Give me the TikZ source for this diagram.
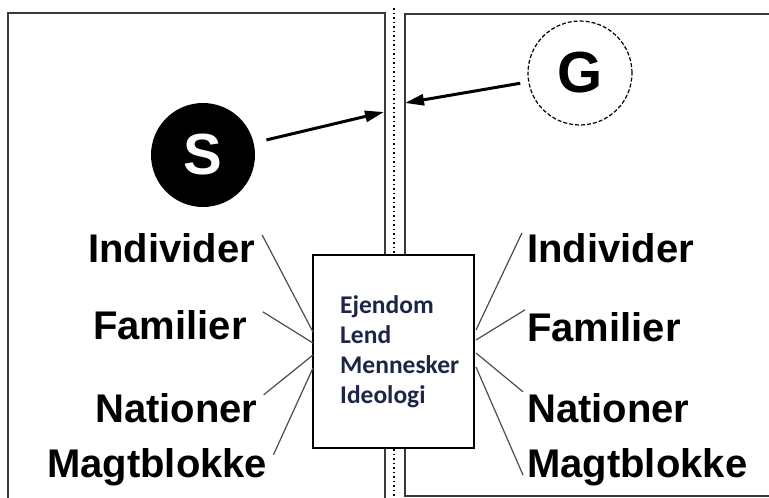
\documentclass[tikz,border=0pt]{standalone}
\usepackage{fontspec}
\setmainfont{Liberation Sans}
\newfontfamily\boxfont{Carlito}
\usetikzlibrary{arrows.meta}
\definecolor{cFrame}{HTML}{3A3A3A}
\definecolor{cInk}{HTML}{1E2648}
\tikzset{
  panel/.style={draw=cFrame, line width=2pt},
  strip/.style={draw=black, line width=2.2pt, dash pattern=on 1.5pt off 3pt},
  actor/.style={circle, minimum size=104pt, inner sep=0pt,
                font=\bfseries\fontsize{58}{58}\selectfont},
  lbl/.style={inner sep=0pt, anchor=base west,
              font=\bfseries\fontsize{40}{40}\selectfont},
  res/.style={inner sep=0pt, anchor=base west, text=cInk,
              font=\boxfont\bfseries\fontsize{25.5}{25.5}\selectfont},
  link/.style={draw=black!70, line width=1.2pt},
  ar/.style={-{Triangle[length=19pt, width=11pt]}, line width=3pt},
}

\begin{document}
\begin{tikzpicture}[x=1pt, y=-1pt]
    \useasboundingbox (0,0) rectangle (769,498);

    % the two panels and the border between them
    \draw[panel] (8,510) -- (8,13) -- (385,13) -- (385,510);
    \draw[panel] (780,14) -- (405,14) -- (405,496) -- (780,496);
    \draw[strip] (394,8) -- (394,498);

    % actors
    \node[actor, fill=black, text=white] (S) at (203,155) {S};
    \node[actor, draw, line width=1.2pt, dash pattern=on 4pt off 2pt, fill=white] (G) at (580,73) {G};
    \coordinate (hitS) at (384,112);
    \coordinate (hitG) at (405,103);
    \draw[ar, shorten <=13pt] (S) -- (hitS);
    \draw[ar, shorten <=8pt] (G) -- (hitG);

    % resources in the middle
    \node[draw, fill=white, line width=1.5pt, minimum width=161pt, minimum height=193pt,
          inner sep=0pt] (box) at (393.5,351.5) {};
    \foreach \t [count=\i] in {Ejendom, Lend, Mennesker, Ideologi}
      \node[res] (r\i) at (340,283+30*\i) {\t};

    % levels, left
    \node[lbl] (lIndL) at (88,262)  {Individer};
    \node[lbl] (lFamL) at (93,339)  {Familier};
    \node[lbl] (lNatL) at (95,422)  {Nationer};
    \node[lbl] (lMagL) at (47,477)  {Magtblokke};
    % levels, right
    \node[lbl] (lIndR) at (527,262) {Individer};
    \node[lbl] (lFamR) at (527,341) {Familier};
    \node[lbl] (lNatR) at (527,422) {Nationer};
    \node[lbl] (lMagR) at (527,477) {Magtblokke};

    \foreach \n/\y in {1/332, 2/343, 3/355, 4/368}
      \coordinate (inL\n) at (313,\y);
    \foreach \n/\y in {1/330, 2/340, 3/353, 4/367}
      \coordinate (inR\n) at (476,\y);

    \draw[link] ([shift={(7,2)}]lIndL.north east)  -- (inL1);
    \draw[link] ([shift={(16,2)}]lFamL.north east) -- (inL2);
    \draw[link] ([shift={(6,2)}]lNatL.north east)  -- (inL3);
    \draw[link] ([shift={(6,7)}]lMagL.north east)  -- (inL4);
    \draw[link] ([shift={(-5,0)}]lIndR.north west)  -- (inR1);
    \draw[link] ([shift={(-2,-2)}]lFamR.north west) -- (inR2);
    \draw[link] ([shift={(-4,-1)}]lNatR.north west) -- (inR3);
    \draw[link] ([shift={(-4,-2)}]lMagR.base west)  -- (inR4);
\end{tikzpicture}
\end{document}
